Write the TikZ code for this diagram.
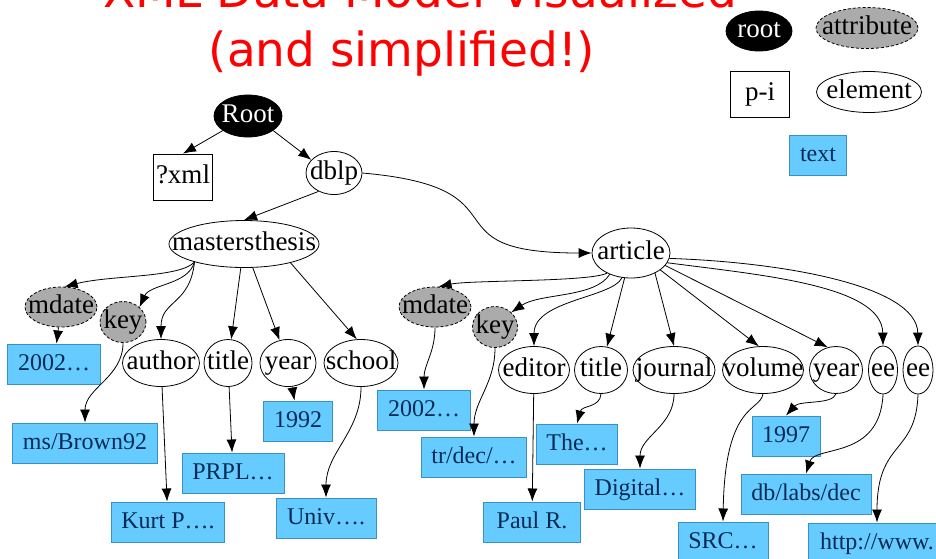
\documentclass[tikz,border=0pt]{standalone}
\usepackage{fontspec}
\setmainfont{Liberation Serif}
\newfontfamily\headfont{DejaVu Sans}
\usepackage{tikz}
\usetikzlibrary{arrows.meta,positioning,shapes.geometric}
\definecolor{headred}{HTML}{FF0000}
\definecolor{attrgray}{HTML}{ABABAB}
\definecolor{textfill}{HTML}{66CCFF}
\definecolor{textline}{HTML}{3A8FC4}
\definecolor{textink}{HTML}{062A55}
\newcommand{\tightlbl}[1]{\makebox[0pt]{#1}}
\tikzset{
  elemnode/.style={
    ellipse,
    draw=black,
    fill=white,
    line width=0.8pt,
    inner sep=0pt,
    minimum height=47pt,
    text height=19pt,
    text depth=6pt,
    font=\fontsize{27}{30}\selectfont
  },
  attrnode/.style={
    elemnode,
    fill=attrgray,
    dash pattern=on 3pt off 2pt,
    minimum height=40pt
  },
  rootnode/.style={
    elemnode,
    fill=black,
    text=white,
    minimum height=42pt
  },
  pinode/.style={
    rectangle,
    draw=black,
    fill=white,
    line width=0.8pt,
    inner sep=0pt,
    minimum height=46pt,
    text height=19pt,
    text depth=6pt,
    font=\fontsize{27}{30}\selectfont
  },
  textnode/.style={
    rectangle,
    draw=textline,
    fill=textfill,
    text=textink,
    line width=1pt,
    inner sep=0pt,
    minimum height=40pt,
    text height=17pt,
    text depth=5pt,
    font=\fontsize{24}{28}\selectfont
  },
  headtext/.style={font=\headfont\fontsize{47}{50}\selectfont, text=headred, anchor=base, inner sep=0pt},
  treearrow/.style={-{Latex[length=13pt,width=10pt]}, line width=0.8pt, draw=black}
}

\begin{document}
\begin{tikzpicture}[x=1pt,y=1pt]
\path[use as bounding box, fill=white] (0,0) rectangle (936,-558);

\node[headtext] (headone) at (420,-7) {XML Data Model Visualized};
\node[headtext] (headtwo) at (402,-66) {(and simplified!)};

\node[rootnode, minimum width=66pt, minimum height=40pt] (legroot) at (759,-31) {\tightlbl{root}};
\node[attrnode, minimum width=102pt, minimum height=41pt] (legattr) at (867,-28) {\tightlbl{attribute}};
\node[pinode, minimum width=59pt] (legpi) at (760,-94) {p-i};
\node[elemnode, minimum width=105pt, minimum height=41pt] (legelem) at (869,-92) {\tightlbl{element}};
\node[textnode, minimum width=57pt] (legtext) at (818,-155) {text};

\node[rootnode, minimum width=68pt] (root) at (248,-116) {\tightlbl{Root}};
\node[pinode, minimum width=59pt] (xml) at (183,-177) {?xml};
\node[elemnode, minimum width=56pt, minimum height=43pt] (dblp) at (334,-173) {\tightlbl{dblp}};
\node[elemnode, minimum width=150pt] (thesis) at (244,-244) {\tightlbl{mastersthesis}};
\node[elemnode, minimum width=78pt, minimum height=50pt] (article) at (631,-253) {\tightlbl{article}};

\node[attrnode, minimum width=72pt] (tmdate) at (61,-307) {\tightlbl{mdate}};
\node[attrnode, minimum width=46pt, minimum height=41pt] (tkey) at (123,-322) {\tightlbl{key}};
\node[elemnode, minimum width=77pt] (tauthor) at (161,-363) {\tightlbl{author}};
\node[elemnode, minimum width=48pt] (ttitle) at (228,-363) {\tightlbl{title}};
\node[elemnode, minimum width=56pt] (tyear) at (288,-363) {\tightlbl{year}};
\node[elemnode, minimum width=74pt] (tschool) at (361,-363) {\tightlbl{school}};

\node[textnode, minimum width=93pt] (tmdatetxt) at (54,-364) {2002…};
\node[textnode, minimum width=145pt] (tkeytxt) at (85,-443) {ms/Brown92};
\node[textnode, minimum width=113pt] (tauthortxt) at (168,-522) {Kurt P….};
\node[textnode, minimum width=102pt] (ttitletxt) at (233,-473) {PRPL…};
\node[textnode, minimum width=69pt] (tyeartxt) at (298,-421) {1992};
\node[textnode, minimum width=100pt] (tschooltxt) at (326,-518) {Univ….};

\node[attrnode, minimum width=72pt] (amdate) at (435,-307) {\tightlbl{mdate}};
\node[attrnode, minimum width=45pt, minimum height=41pt] (akey) at (495,-327) {\tightlbl{key}};
\node[elemnode, minimum width=71pt] (aeditor) at (534,-370) {\tightlbl{editor}};
\node[elemnode, minimum width=53pt] (atitle) at (601,-370) {\tightlbl{title}};
\node[elemnode, minimum width=82pt] (ajournal) at (674,-370) {\tightlbl{journal}};
\node[elemnode, minimum width=81pt] (avolume) at (763,-370) {\tightlbl{volume}};
\node[elemnode, minimum width=53pt] (ayear) at (836,-370) {\tightlbl{year}};
\node[elemnode, minimum width=29pt, minimum height=48pt] (aeeone) at (883,-370) {\tightlbl{ee}};
\node[elemnode, minimum width=30pt, minimum height=48pt] (aeetwo) at (918,-370) {\tightlbl{ee}};

\node[textnode, minimum width=93pt] (amdatetxt) at (424,-410) {2002…};
\node[textnode, minimum width=105pt] (akeytxt) at (474,-457) {tr/dec/…};
\node[textnode, minimum width=97pt] (aeditortxt) at (532,-522) {Paul R.};
\node[textnode, minimum width=81pt] (atitletxt) at (577,-444) {The…};
\node[textnode, minimum width=111pt] (ajournaltxt) at (640,-489) {Digital…};
\node[textnode, minimum width=90pt] (avolumetxt) at (723,-542) {SRC…};
\node[textnode, minimum width=68pt] (ayeartxt) at (786,-436) {1997};
\node[textnode, minimum width=130pt] (aeeonetxt) at (806,-494) {db/labs/dec};
\node[textnode, minimum width=138pt] (aeetwotxt) at (877,-543) {http://www.};

\draw[treearrow] (root.-150) -- (xml.north);
\draw[treearrow] (root.-30) -- (dblp.150);
\draw[treearrow] (dblp.-130) -- (thesis.north);
\draw[treearrow] (dblp.east) to[out=-5,in=180,looseness=1.8] (article.west);

\draw[treearrow] (thesis.200) .. controls (180,-278) and (110,-275) .. (tmdate.80);
\draw[treearrow] (thesis.200) .. controls (188,-285) and (150,-284) .. (tkey.42);
\draw[treearrow] (thesis.200) .. controls (190,-305) and (161,-300) .. (tauthor.north);
\draw[treearrow] (thesis) -- (ttitle);
\draw[treearrow] (thesis) -- (tyear);
\draw[treearrow] (thesis.-22) -- (tschool.100);

\draw[treearrow] (tmdate) -- (tmdatetxt);
\draw[treearrow] (tkey.south) to[out=-90,in=90] (tkeytxt.north);
\draw[treearrow] (tauthor) -- (tauthortxt);
\draw[treearrow] (ttitle) -- (ttitletxt);
\draw[treearrow] (tyear) -- (tyeartxt);
\draw[treearrow] (tschool.south) to[out=-90,in=90] (tschooltxt.north);

\draw[treearrow] (article.220) .. controls (590,-282) and (470,-280) .. (amdate.80);
\draw[treearrow] (article.225) .. controls (595,-298) and (540,-293) .. (akey.42);
\draw[treearrow] (article.250) .. controls (612,-298) and (534,-300) .. (aeditor.north);
\draw[treearrow] (article) -- (atitle);
\draw[treearrow] (article.-40) -- (ajournal.north);
\draw[treearrow] (article.-30) -- (avolume.100);
\draw[treearrow] (article.-20) -- (ayear.110);
\draw[treearrow] (article.-15) .. controls (760,-275) and (882,-285) .. (aeeone.north);
\draw[treearrow] (article.-8) .. controls (780,-262) and (917,-285) .. (aeetwo.north);

\draw[treearrow] (amdate.south) to[out=-90,in=90] (amdatetxt.north);
\draw[treearrow] (akey.south) to[out=-90,in=90] (akeytxt.north);
\draw[treearrow] (aeditor) -- (aeditortxt);
\draw[treearrow] (atitle.south) .. controls (600,-408) and (582,-405) .. (atitletxt.north);
\draw[treearrow] (ajournal.south) to[out=-90,in=90] (ajournaltxt.north);
\draw[treearrow] (avolume.south) .. controls (760,-412) and (725,-402) .. (avolumetxt.north);
\draw[treearrow] (ayear.south) .. controls (832,-405) and (800,-400) .. (ayeartxt.north);
\draw[treearrow] (aeeone.south) .. controls (880,-460) and (815,-445) .. (aeeonetxt.north);
\draw[treearrow] (aeetwo.south) .. controls (916,-455) and (877,-440) .. (aeetwotxt.north);
\end{tikzpicture}
\end{document}
